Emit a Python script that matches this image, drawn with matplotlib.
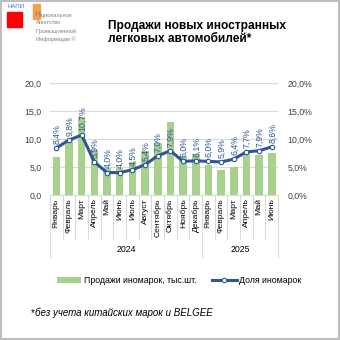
import matplotlib
matplotlib.use("Agg")
import matplotlib.pyplot as plt
from matplotlib.patches import Rectangle
from matplotlib.lines import Line2D

plt.rcParams["font.family"] = ["Liberation Sans", "DejaVu Sans"]

# data
months = ["Январь", "Февраль", "Март", "Апрель", "Май", "Июнь", "Июль", "Август",
          "Сентябрь", "Октябрь", "Ноябрь", "Декабрь",
          "Январь", "Февраль", "Март", "Апрель", "Май", "Июнь"]
years = ["2024", "2025"]
year_counts = [12, 6]
sales = [6.8, 10.0, 13.9, 8.1, 4.9, 4.9, 5.9, 7.8, 9.2, 13.1, 7.0, 7.3,
         5.3, 4.5, 5.0, 7.7, 7.1, 7.5]
share = [8.4, 9.8, 10.7, 5.9, 4.0, 4.0, 4.5, 5.4, 7.0, 7.9, 6.0, 6.1,
         6.0, 5.9, 6.4, 7.7, 7.9, 8.6]
left_ticks = [0, 5, 10, 15, 20]

BAR_C = "#A9D18E"
LINE_C = "#2F5597"
GRID_C = "#D9D9D9"
TXT_C = "#404040"
NARROW = ["Liberation Sans Narrow", "Liberation Sans", "DejaVu Sans"]

fig = plt.figure(figsize=(3.4, 3.4), dpi=100)
ax = fig.add_axes([0.147, 0.4265, 0.671, 0.3295])
ax2 = ax.twinx()

x = list(range(len(months)))
ax.bar(x, sales, width=0.6, color=BAR_C, zorder=2, label="Продажи иномарок, тыс.шт.")
ax.set_ylim(0, 20)
ax.set_xlim(-0.5, len(months) - 0.5)
ax.set_yticks(left_ticks)
ax.set_yticklabels([f"{v:.1f}".replace(".", ",") for v in left_ticks], fontsize=6.3, color=TXT_C)
for v in left_ticks[1:]:
    ax.axhline(v, color=GRID_C, lw=0.8, zorder=0)

ax2.plot(x, share, color=LINE_C, lw=2.2, marker="o", ms=3.2, mfc="white", mec=LINE_C,
         mew=0.8, zorder=3, label="Доля иномарок")
ax2.set_ylim(0, 20)
ax2.set_yticks(left_ticks)
ax2.set_yticklabels([f"{v:.1f}%".replace(".", ",") for v in left_ticks], fontsize=6.3, color=TXT_C)
for xi, v in zip(x, share):
    ax2.annotate(f"{v:.1f}%".replace(".", ","), (xi, v), xytext=(0.5, 3), textcoords="offset points",
                 rotation=90, ha="center", va="bottom", fontsize=6.3, color=LINE_C, family=NARROW)

for a in (ax, ax2):
    for s in a.spines.values():
        s.set_visible(False)
ax.tick_params(axis="y", length=0, pad=6)
ax2.tick_params(axis="y", length=0, pad=6.5)
ax.spines["bottom"].set_visible(True)
ax.spines["bottom"].set_color(GRID_C)
ax.spines["bottom"].set_linewidth(0.8)

# month labels with separators
ax.set_xticks([i - 0.5 for i in range(len(months) + 1)])
ax.set_xticklabels([])
ax.tick_params(axis="x", which="major", length=32, color=GRID_C, width=0.8)
ax.set_xticks(x, minor=True)
ax.set_xticklabels(months, minor=True, rotation=90, fontsize=6.1, color="black")
ax.tick_params(axis="x", which="minor", length=0, pad=2.5)
for lab in ax.get_xticklabels(minor=True):
    lab.set_verticalalignment("top")

# year level
tr = ax.get_xaxis_transform()
start = 0
bounds = [-0.5]
for yr, n in zip(years, year_counts):
    mid = start + (n - 1) / 2
    ax.text(mid, -0.49, yr, transform=tr, ha="center", va="center", fontsize=6.3)
    start += n
    bounds.append(start - 0.5)
for b in bounds:
    ax.add_line(Line2D([b, b], [-0.40, -0.555], transform=tr, color=GRID_C, lw=0.8, clip_on=False))

# legend
h1, l1 = ax.get_legend_handles_labels()
h2, l2 = ax2.get_legend_handles_labels()
fig.legend(h1 + h2, l1 + l2, loc="center", bbox_to_anchor=(0.527, 0.176), ncol=2, frameon=False,
           fontsize=6.3, handlelength=2.8, columnspacing=1.8, handletextpad=0.3)

# title
fig.text(0.318, 0.905, "Продажи новых иностранных\nлегковых автомобилей*", fontsize=8.6,
         fontweight="bold", ha="left", va="center", linespacing=1.15)

# footnote
fig.text(0.092, 0.079, "*", fontsize=7, ha="left", va="center")
fig.text(0.102, 0.079, "без учета китайских марок и BELGEE", fontsize=7, style="italic",
         ha="left", va="center")

# logo
fig.patches.append(Rectangle((7 / 340, 1 - 27 / 340), 15 / 340, 15 / 340, transform=fig.transFigure,
                             color="#FF0000", figure=fig))
fig.patches.append(Rectangle((33 / 340, 1 - 19 / 340), 7 / 340, 15 / 340, transform=fig.transFigure,
                             color="#F5A04A", figure=fig))
fig.text(7 / 340, 1 - 7 / 340, "НАПИ", fontsize=4.3, color="#4472C4", ha="left", va="center")
fig.text(34 / 340, 1 - 14 / 340, "Н", fontsize=6, color="#7F7F7F", ha="left", va="center")
fig.text(39 / 340, 1 - 15 / 340, "ациональное", fontsize=4, color="#7F7F7F", ha="left", va="center")
fig.text(36 / 340, 1 - 23 / 340, "Агентство", fontsize=4, color="#7F7F7F", ha="left", va="center")
fig.text(36 / 340, 1 - 31 / 340, "Промышленной", fontsize=4, color="#7F7F7F", ha="left", va="center")
fig.text(36 / 340, 1 - 39 / 340, "Информации ©", fontsize=4, color="#7F7F7F", ha="left", va="center")

# outer frame
fig.patches.append(Rectangle((0.002, 0.002), 0.996, 0.996, transform=fig.transFigure, fill=False,
                             edgecolor="#BFBFBF", lw=1.5, figure=fig))

fig.savefig("out.png", dpi=100)
